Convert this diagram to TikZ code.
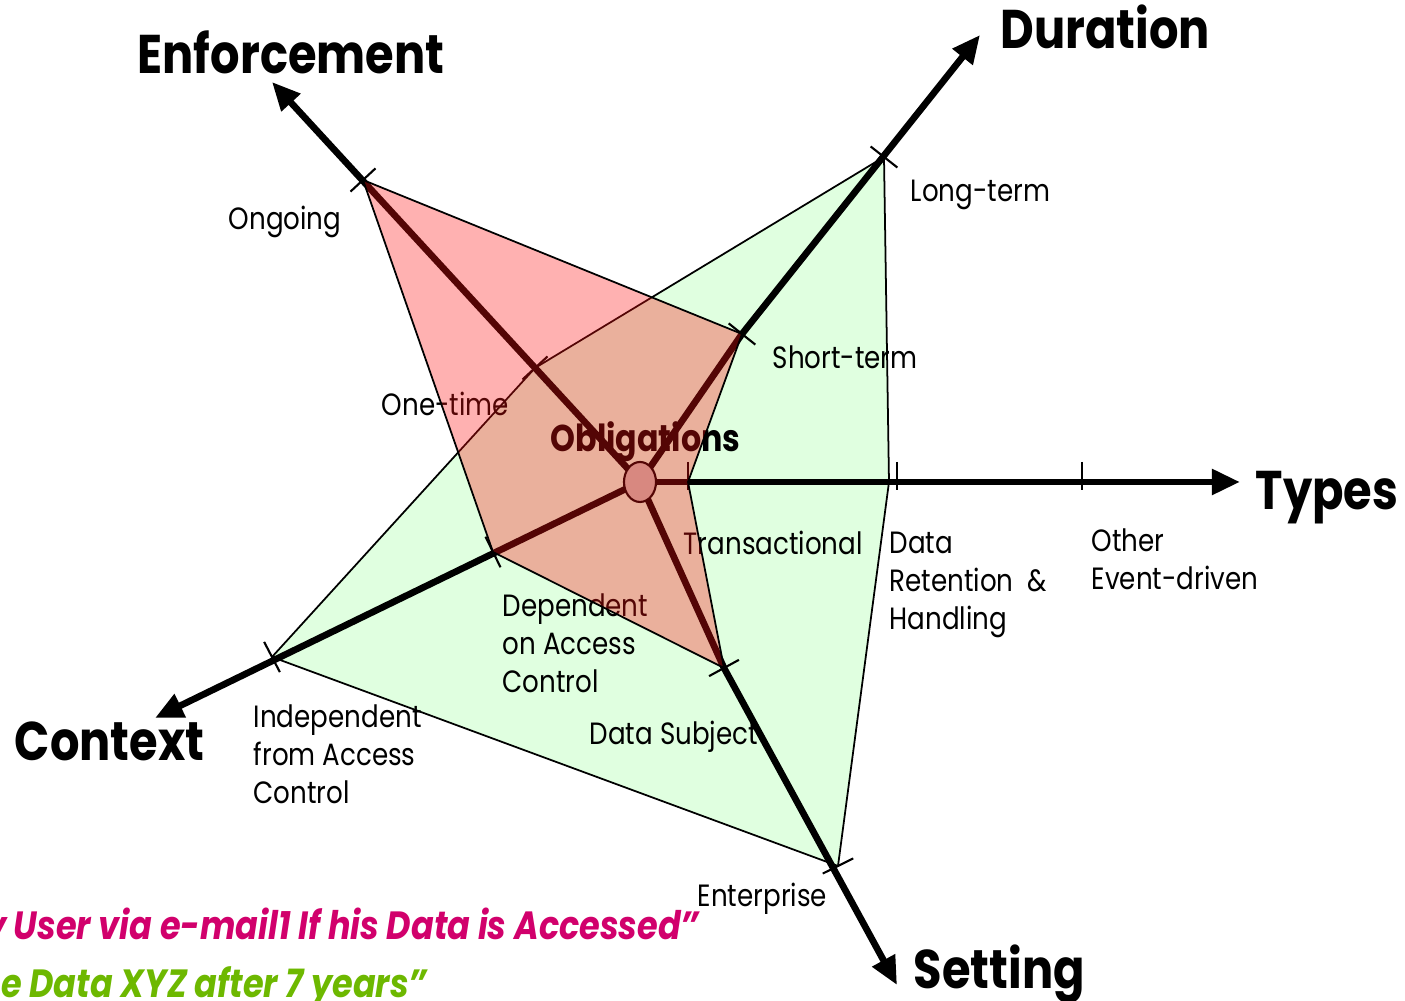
\documentclass[tikz,border=0pt]{standalone}
\usepackage{fontspec}
\setmainfont{Poppins}[FakeStretch=0.85]
\usepackage{xcolor}
\usepackage{tikz}
\usetikzlibrary{calc,arrows.meta}
\definecolor{greenzone}{HTML}{E0FFE0}
\definecolor{redzone}{RGB}{255,18,18}
\definecolor{hubfill}{RGB}{198,195,183}
\definecolor{quotemagenta}{HTML}{D1006C}
\definecolor{quotegreen}{HTML}{6DB800}
\tikzset{
  axis/.style={draw=black, line width=1.9pt, line join=round, -{Triangle[length=8pt,width=7pt]}},
  tickmark/.style={draw=black, line width=0.6pt},
  edge/.style={draw=black, line width=0.5pt, line join=round},
  lab/.style={inner sep=0pt, font=\fontsize{8.75}{10.8}\selectfont},
  multilab/.style={lab, align=left, anchor=north west},
  title/.style={inner sep=0pt, anchor=base west, font=\fontsize{15.5}{18}\selectfont\bfseries},
  quote/.style={inner sep=0pt, anchor=base east, font=\fontsize{11.2}{13}\selectfont\bfseries\itshape},
}
\begin{document}
\begin{tikzpicture}[x=0.01cm, y=-0.01cm]
  \useasboundingbox (0,0) rectangle (1405,1001);
  \clip (0,0) rectangle (1405,1001);

  % hub and axis ends
  \coordinate (O) at (640,482);
  \coordinate (Etip) at (272,82);
  \coordinate (Dtip) at (980,35);
  \coordinate (Ttip) at (1240,482);
  \coordinate (Stip) at (897,985);
  \coordinate (Ctip) at (155,718);

  % scale points on the axes
  \coordinate (E1) at (535,368);
  \coordinate (E2) at (363,180);
  \coordinate (D1) at (742,334);
  \coordinate (D2) at (884,157);
  \coordinate (T1) at (688,482);
  \coordinate (T2) at (889,482);
  \coordinate (S1) at (724,668);
  \coordinate (S2) at (838,866);
  \coordinate (C1) at (493,552);
  \coordinate (C2) at (272,657);

  % retention profile
  \filldraw[edge, fill=greenzone] (D2) -- (E1) -- (C2) -- (S2) -- (T2) -- cycle;

  % labels
  \node[lab, anchor=base west] (ongoing) at (228,230) {Ongoing};
  \node[lab, anchor=base west] (onetime) at (381,416) {One-time};
  \node[lab, anchor=base west] (longterm) at (910,202) {Long-term};
  \node[lab, anchor=base west] (shortterm) at (772,369) {Short-term};
  \node[lab, anchor=base west] (transact) at (683,555) {Transactional};
  \node[multilab] (retention) at (889,531) {Data\\Retention\ \ \&\\Handling};
  \node[multilab] (other) at (1091,528) {Other\\Event-driven};
  \node[multilab] (dependent) at (502,593) {Dependent\\on Access\\Control};
  \node[multilab] (independent) at (253,704) {Independent\\from Access\\Control};
  \node[lab, anchor=base west] (subject) at (589,745) {Data Subject};
  \node[lab, anchor=base west] (enterprise) at (697,907) {Enterprise};

  \node[title] (enforcement) at (137,74) {Enforcement};
  \node[title] (duration) at (1000,49) {Duration};
  \node[title] (types) at (1255,510) {Types};
  \node[title] (context) at (14,761) {Context};
  \node[title] (setting) at (913,989) {Setting};

  \node[inner sep=0pt, anchor=base west, font=\fontsize{10.6}{12}\selectfont\bfseries] (obligations) at (550,452) {Obligations};

  % axes
  \draw[axis] (O) -- (Etip);
  \draw[axis] (O) -- (D1) -- (Dtip);
  \draw[axis] (O) -- (Ttip);
  \draw[axis] (O) -- (S1) -- (Stip);
  \draw[axis] (O) -- (Ctip);

  % ticks
  \foreach \v/\t in {E1/Etip, E2/Etip, D1/Dtip, D2/Dtip, C1/Ctip, C2/Ctip, S1/Stip, S2/Stip}
    \draw[tickmark] ($(\v)!0.17cm!90:(\t)$) -- ($(\v)!0.17cm!-90:(\t)$);
  \foreach \x in {688,897,1082}
    \draw[tickmark] (\x,462) -- (\x,490);

  % hub
  \draw[draw=black, line width=0.6pt, fill=hubfill] (O) ellipse [x radius=0.16cm, y radius=0.2cm];

  % notification profile, laid over the rest
  \fill[redzone, fill opacity=0.33] (E2) -- (D1) -- (T1) -- (S1) -- (C1) -- cycle;
  \draw[edge] (E2) -- (D1) -- (T1) -- (S1) -- (C1) -- cycle;

  % examples
  \node[quote, text=quotemagenta] (q1) at (700,940) {y User via e-mail1 If his Data is Accessed”};
  \node[quote, text=quotegreen] (q2) at (428,998) {e Data XYZ after 7 years”};
\end{tikzpicture}
\end{document}
